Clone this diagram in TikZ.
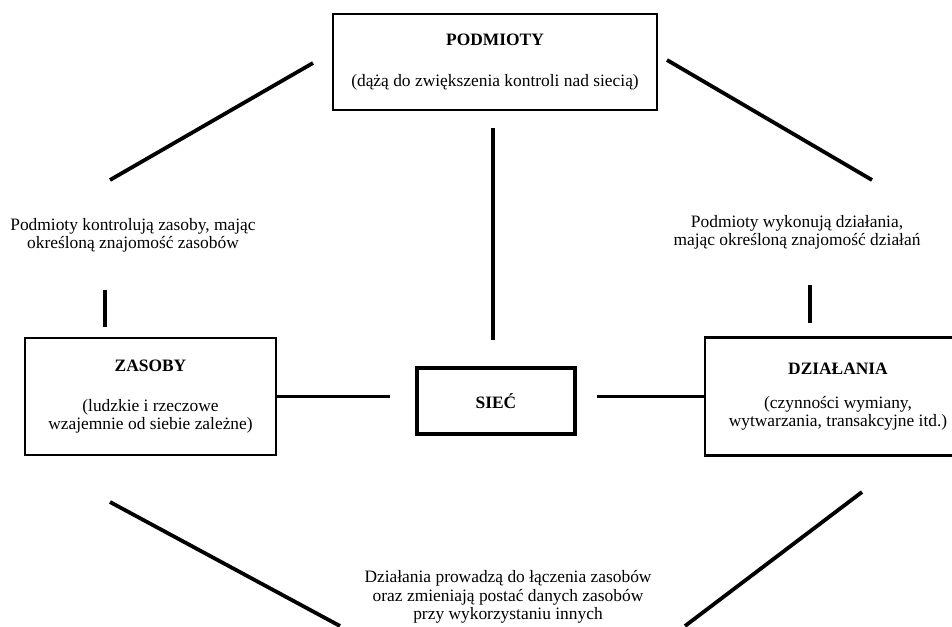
\documentclass[tikz,border=0pt]{standalone}
\usepackage{fontspec}
\setmainfont{Liberation Serif}
\begin{document}
\begin{tikzpicture}[x=1pt,y=-1pt,
  txt/.style={font=\fontsize{17.4}{18.2}\selectfont},
  box/.style={txt, draw, line width=2.7pt, inner sep=0pt, align=center},
  lbl/.style={txt, inner sep=0pt, align=center},
  conn/.style={line width=3.8pt}]
\useasboundingbox (0,0) rectangle (952,626);

% boxes
\node[box, minimum width=324pt, minimum height=96pt] (podm) at (495,62)
  {\textbf{PODMIOTY}\\[23pt](dążą do zwiększenia kontroli nad siecią)};
\node[box, minimum width=251pt, minimum height=117pt] (zas) at (150.5,396.5)
  {\textbf{ZASOBY}\\[22pt](ludzkie i rzeczowe\\wzajemnie od siebie zależne)};
\node[box, minimum width=266pt, minimum height=118pt] (dzia) at (838,396.5)
  {\textbf{DZIAŁANIA}\\[16pt](czynności wymiany,\\wytwarzania, transakcyjne itd.)};
\node[box, line width=3.5pt, minimum width=158pt, minimum height=66pt] (siec) at (496,401)
  {\textbf{SIEĆ}};

% relation labels
\node[lbl] (lz) at (133,235) {Podmioty kontrolują zasoby, mając\\określoną znajomość zasobów};
\node[lbl] (ld) at (797,232) {Podmioty wykonują działania,\\mając określoną znajomość działań};
\node[lbl] (lb) at (508,597) {Działania prowadzą do łączenia zasobów\\oraz zmieniają postać danych zasobów\\przy wykorzystaniu innych};

% free ends of the connecting strokes
\coordinate (a1) at (313,63);  \coordinate (a2) at (110,180);
\coordinate (b1) at (667,60);  \coordinate (b2) at (872,180);
\coordinate (c1) at (493,128); \coordinate (c2) at (493,340);
\coordinate (d1) at (105,290); \coordinate (d2) at (105,327);
\coordinate (e1) at (810,285); \coordinate (e2) at (810,323);
\coordinate (f1) at (390,396.5);
\coordinate (g1) at (597,396.5);
\coordinate (h1) at (110,502); \coordinate (h2) at (340,626);
\coordinate (k1) at (862,492); \coordinate (k2) at (685,626);

\draw[conn] (a1) -- (a2);
\draw[conn] (b1) -- (b2);
\draw[conn] (c1) -- (c2);
\draw[conn] (d1) -- (d2);
\draw[conn] (e1) -- (e2);
\draw[conn] (zas.east) -- (f1);
\draw[conn] (g1) -- (dzia.west);
\draw[conn] (h1) -- (h2);
\draw[conn] (k1) -- (k2);
\end{tikzpicture}
\end{document}
